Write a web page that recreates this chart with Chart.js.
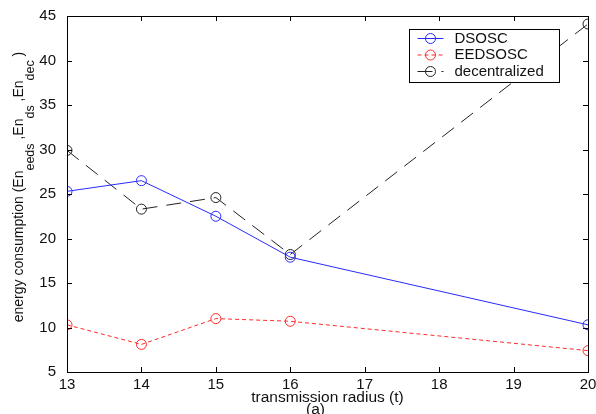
<!DOCTYPE html>
<html>
<head>
<meta charset="utf-8">
<script src="https://cdn.jsdelivr.net/npm/chart.js@4"></script>
<style>
  html, body { margin: 0; padding: 0; background: #fff; }
  #wrap { width: 596px; height: 414px; }
</style>
</head>
<body>
<div id="wrap"><canvas id="c" width="596" height="414"></canvas></div>
<script>
// Values
var radius = [13, 14, 15, 16, 20];
var dsosc = [25.3, 26.5, 22.5, 17.9, 10.3];
var eedsosc = [10.3, 8.1, 11.0, 10.7, 7.4];
var decentralized = [29.9, 23.3, 24.6, 18.2, 44.1];
var xTicks = [13, 14, 15, 16, 17, 18, 19, 20];
var yTicks = [5, 10, 15, 20, 25, 30, 35, 40, 45];

var FONT = "'Liberation Sans', Arial, sans-serif";

function points(vals) {
    return vals.map(function (v, i) { return { x: radius[i], y: v }; });
}

function series(label, vals, color, dash) {
    return {
        label: label,
        data: points(vals),
        borderColor: color,
        backgroundColor: "rgba(0,0,0,0)",
        borderWidth: 1,
        borderDash: dash,
        pointRadius: 5,
        pointBorderWidth: 1,
        pointBorderColor: color,
        pointBackgroundColor: "rgba(0,0,0,0)",
        tension: 0
    };
}

// ── Box, inward ticks, titles and legend (MATLAB look) ──
var matlabFrame = {
    id: "matlabFrame",
    afterDraw: function (chart) {
        var ctx = chart.ctx;
        var a = chart.chartArea;
        var xs = chart.scales.x, ys = chart.scales.y;
        ctx.save();
        ctx.strokeStyle = "#000";
        ctx.lineWidth = 1;
        ctx.strokeRect(Math.round(a.left) + 0.5, Math.round(a.top) + 0.5,
            Math.round(a.right - a.left), Math.round(a.bottom - a.top));
        ctx.beginPath();
        xTicks.forEach(function (t) {
            var px = Math.round(xs.getPixelForValue(t)) + 0.5;
            ctx.moveTo(px, a.bottom); ctx.lineTo(px, a.bottom - 5);
            ctx.moveTo(px, a.top); ctx.lineTo(px, a.top + 5);
        });
        yTicks.forEach(function (t) {
            var py = Math.round(ys.getPixelForValue(t)) + 0.5;
            ctx.moveTo(a.left, py); ctx.lineTo(a.left + 5, py);
            ctx.moveTo(a.right, py); ctx.lineTo(a.right - 5, py);
        });
        ctx.stroke();

        // x title
        ctx.fillStyle = "#111";
        ctx.font = "15.5px " + FONT;
        ctx.textAlign = "center";
        ctx.textBaseline = "middle";
        ctx.fillText("transmission radius (t)", (a.left + a.right) / 2, a.bottom + 26);
        ctx.fillText("(a)", (a.left + a.right) / 2 - 12, a.bottom + 38);

        // y title with subscripts
        ctx.translate(19, 187);
        ctx.rotate(-Math.PI / 2);
        var parts = [
            ["energy consumption (En", 0], ["eeds", 1], [" ,En", 0], ["ds", 1],
            [" ,En", 0], ["dec", 1], [" )", 0]
        ];
        var big = "14px " + FONT, small = "12.5px " + FONT;
        var total = 0;
        parts.forEach(function (p) { ctx.font = p[1] ? small : big; total += ctx.measureText(p[0]).width; });
        var cx = -total / 2;
        ctx.textAlign = "left";
        parts.forEach(function (p) {
            ctx.font = p[1] ? small : big;
            ctx.fillText(p[0], cx, p[1] ? 12 : 0);
            cx += ctx.measureText(p[0]).width;
        });
        ctx.restore();

        // legend inside the plot
        ctx.save();
        var bx = Math.round(a.right - 179) + 0.5, by = Math.round(a.top + 13) + 0.5;
        var bw = 150, bh = 53;
        ctx.fillStyle = "#fff";
        ctx.fillRect(bx, by, bw, bh);
        ctx.strokeStyle = "#000";
        ctx.strokeRect(bx, by, bw, bh);
        ctx.font = "15px " + FONT;
        ctx.textBaseline = "middle";
        chart.data.datasets.forEach(function (ds, i) {
            var ry = by + 9 + i * 16.5;
            ctx.strokeStyle = ds.borderColor;
            ctx.setLineDash(ds.borderDash || []);
            ctx.beginPath();
            ctx.moveTo(bx + 8, ry); ctx.lineTo(bx + 34, ry);
            ctx.stroke();
            ctx.setLineDash([]);
            ctx.beginPath();
            ctx.arc(bx + 21, ry, 5, 0, Math.PI * 2);
            ctx.stroke();
            ctx.fillStyle = "#111";
            ctx.fillText(ds.label, bx + 45, ry);
        });
        ctx.restore();
    }
};

new Chart(document.getElementById("c"), {
    type: "line",
    data: {
        datasets: [
            series("DSOSC", dsosc, "#2a2aff", []),
            series("EEDSOSC", eedsosc, "#ff2a2a", [4, 3]),
            series("decentralized", decentralized, "#222", [15, 9])
        ]
    },
    options: {
        responsive: false,
        animation: false,
        layout: { padding: { left: 0, right: 8, top: 16, bottom: 0 } },
        plugins: { legend: { display: false }, tooltip: { enabled: false } },
        scales: {
            x: {
                type: "linear",
                min: 13, max: 20,
                afterBuildTicks: function (s) { s.ticks = xTicks.map(function (v) { return { value: v }; }); },
                afterFit: function (s) { s.height = 42; s.paddingRight = 0; s.paddingLeft = 0; },
                grid: { display: false },
                border: { display: false },
                ticks: { color: "#111", font: { size: 15, family: FONT }, padding: -4, maxRotation: 0, autoSkip: false }
            },
            y: {
                type: "linear",
                min: 5, max: 45,
                afterBuildTicks: function (s) { s.ticks = yTicks.map(function (v) { return { value: v }; }); },
                afterFit: function (s) { s.width = 67; s.paddingTop = 0; s.paddingBottom = 0; },
                grid: { display: false },
                border: { display: false },
                ticks: { color: "#111", font: { size: 15, family: FONT }, padding: 3 }
            }
        }
    },
    plugins: [matlabFrame]
});
</script>
</body>
</html>
